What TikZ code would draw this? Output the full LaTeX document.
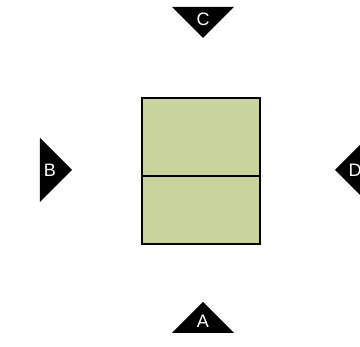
\documentclass[tikz,border=0pt]{standalone}
\usepackage{fontspec}
\setmainfont{Liberation Sans}
\usetikzlibrary{positioning}
\definecolor{boxgreen}{RGB}{200,212,156}

\begin{document}
\begin{tikzpicture}[x=1pt, y=-1pt,
    pointer/.style={fill=black},
    letter/.style={text=white, font=\fontsize{18}{18}\selectfont, inner sep=0pt}]
    \useasboundingbox (0,0) rectangle (360,347);
    \clip (0,0) rectangle (360,347);

    % Box
    \draw[line width=2pt, fill=boxgreen] (142,98) rectangle (260,244);
    \draw[line width=2pt] (142,176) -- (260,176);

    % Pointers
    \fill[pointer] (172,7) -- (234,7) -- (203,38) -- cycle;
    \fill[pointer] (40,138) -- (72,170) -- (40,202) -- cycle;
    \fill[pointer] (367,138) -- (335,170) -- (367,202) -- cycle;
    \fill[pointer] (172,333) -- (234,333) -- (203,302) -- cycle;

    % Labels
    \node[letter] (c) at (203,19) {C};
    \node[letter] (b) at (50,170) {B};
    \node[letter] (d) at (355,170) {D};
    \node[letter] (a) at (203,321) {A};
\end{tikzpicture}
\end{document}
